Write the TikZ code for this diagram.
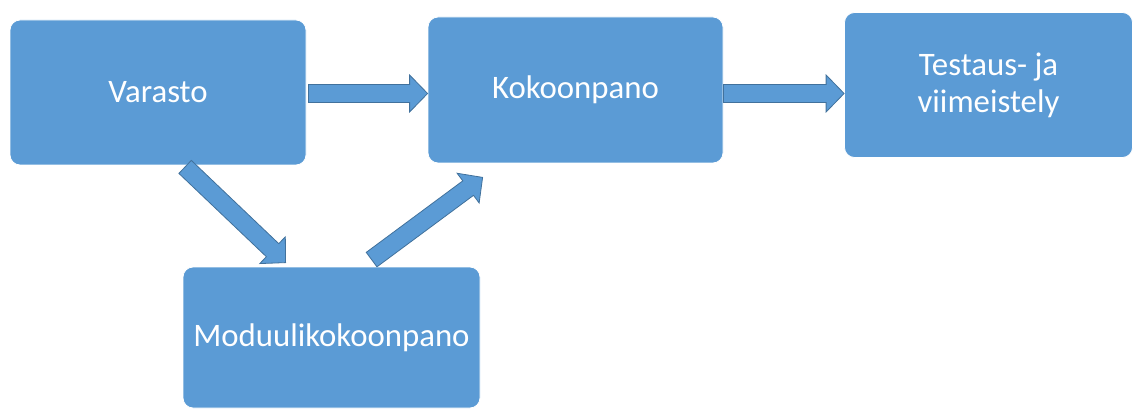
\documentclass[tikz,border=0pt]{standalone}
\usepackage{fontspec}
\setmainfont{Carlito}
\usetikzlibrary{calc}
\definecolor{boxblue}{HTML}{5B9BD5}
\definecolor{edgeblue}{HTML}{41719C}
\tikzset{
  stage/.style={fill=boxblue, draw=white, line width=0.8pt, rounded corners=10pt,
    text=white, font=\fontsize{32.8}{37}\selectfont, align=center},
  fatarrow/.style={fill=boxblue, draw=edgeblue, line width=0.8pt,
    to path={($(\tikztostart)!\halfshaft pt!90:(\tikztotarget)$)
      -- ($(\tikztotarget)!\headlen pt!(\tikztostart)!\halfshaft pt!-90:(\tikztostart)$)
      -- ($(\tikztotarget)!\headlen pt!(\tikztostart)!\halfhead pt!-90:(\tikztostart)$)
      -- (\tikztotarget)
      -- ($(\tikztotarget)!\headlen pt!(\tikztostart)!\halfhead pt!90:(\tikztostart)$)
      -- ($(\tikztotarget)!\headlen pt!(\tikztostart)!\halfshaft pt!90:(\tikztostart)$)
      -- ($(\tikztostart)!\halfshaft pt!-90:(\tikztotarget)$) -- cycle}}
}
\begin{document}
\begin{tikzpicture}[x=1pt,y=-1pt]
	%% block arrow sizes
	\def\halfshaft{9}
	\def\halfhead{18.5}
	\def\headlen{18}

	\useasboundingbox (0,0) rectangle (1133,409);

	\node[stage, minimum width=296pt, minimum height=145pt] (varasto) at (158,92.5) {Varasto};
	\node[stage, minimum width=295pt, minimum height=146pt] (kokoonpano) at (575.5,90) {Kokoonpano};
	\node[stage, minimum width=288pt, minimum height=145pt] (testaus) at (988.5,85) {Testaus- ja\\viimeistely};
	\node[stage, minimum width=297pt, minimum height=141pt] (moduuli) at (331.5,337.5) {Moduulikokoonpano};

	% arrow ends
	\coordinate (v-out) at ($(varasto.east)+(2,1)$);
	\coordinate (k-in) at (kokoonpano.west |- v-out);
	\coordinate (k-out) at (kokoonpano.east |- v-out);
	\coordinate (t-in) at (testaus.west |- v-out);
	\coordinate (v-down) at ($(varasto.south west)+(175.5,1.5)$);
	\coordinate (m-in) at ($(moduuli.north west)+(103,-4)$);
	\coordinate (m-out) at ($(moduuli.north west)+(189,-7)$);
	\coordinate (k-low) at ($(kokoonpano.south west)+(55,14)$);

	\draw[fatarrow] (v-out) to (k-in);
	\draw[fatarrow] (k-out) to (t-in);
	\draw[fatarrow] (v-down) to (m-in);
	\draw[fatarrow] (m-out) to (k-low);
\end{tikzpicture}
\end{document}
